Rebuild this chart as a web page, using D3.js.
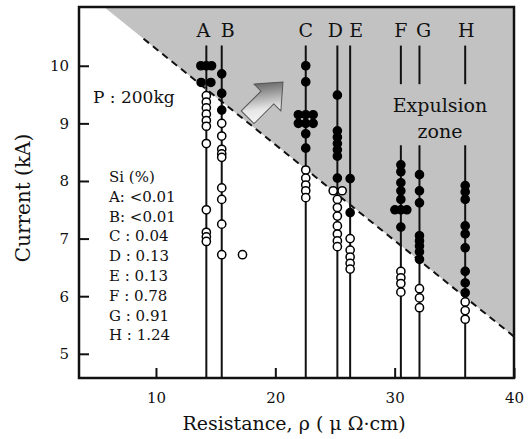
<!DOCTYPE html>
<html>
<head>
<meta charset="utf-8">
<script src="https://cdn.jsdelivr.net/npm/d3@7"></script>
<style>
  body { margin: 0; background: #fff; }
  svg { display: block; }
  text { font-family: "DejaVu Serif", "Liberation Serif", serif; fill: #111; }
</style>
</head>
<body>
<div id="chart"></div>
<script>
// steel grades and their line position (resistance, uOhm.cm)
const grades = ["A", "B", "C", "D", "E", "F", "G", "H"];
const gradeRho = [14.22, 15.51, 22.55, 25.2, 26.27, 30.52, 32.08, 35.91];
const siContent = ["<0.01", "<0.01", " : 0.04", " : 0.13", " : 0.13", " : 0.78", " : 0.91", " : 1.24"];

// welds with expulsion (filled) : [resistance, current kA]
const expulsionPts = [
  [13.76, 10.0], [14.22, 10.0], [14.66, 10.0], [13.78, 9.71], [14.6, 9.71],
  [15.51, 9.86], [15.51, 9.52], [15.51, 9.23],
  [22.55, 10.0], [22.55, 9.72],
  [21.93, 9.15], [22.55, 9.15], [23.17, 9.15], [21.93, 9.0], [22.55, 9.0], [23.17, 9.0],
  [22.55, 8.82], [22.55, 8.57],
  [25.2, 9.49], [25.2, 8.87], [25.2, 8.76], [25.2, 8.65], [25.2, 8.54], [25.2, 8.43], [25.2, 8.05],
  [26.27, 8.04], [26.27, 7.45],
  [30.52, 8.28], [30.52, 8.16], [30.52, 7.97], [30.52, 7.83], [30.52, 7.68],
  [30.02, 7.5], [30.52, 7.5], [31.02, 7.5], [30.52, 7.2],
  [32.08, 8.11], [32.08, 7.83], [32.08, 7.62], [32.08, 7.05], [32.08, 6.96],
  [32.08, 6.87], [32.08, 6.77], [32.08, 6.64],
  [35.91, 7.92], [35.91, 7.81], [35.91, 7.68], [35.91, 7.22], [35.91, 7.08],
  [35.91, 6.84], [35.91, 6.43], [35.91, 6.23], [35.91, 6.06]
];

// welds without expulsion (open)
const soundPts = [
  [14.22, 9.48], [14.22, 9.37], [14.22, 9.27], [14.22, 9.16], [14.22, 9.05], [14.22, 8.95],
  [14.22, 8.65], [14.22, 7.5], [14.22, 7.11], [14.22, 7.03], [14.22, 6.95],
  [15.51, 9.0], [15.51, 8.78], [15.51, 8.55], [15.51, 8.47], [15.51, 8.41],
  [15.51, 7.88], [15.51, 7.68], [15.51, 7.25], [15.51, 6.72], [17.25, 6.72],
  [22.55, 8.19], [22.55, 8.05], [22.55, 7.93], [22.55, 7.83], [22.55, 7.71],
  [24.85, 7.83], [25.6, 7.83], [25.2, 7.68], [25.2, 7.54], [25.2, 7.39],
  [25.2, 7.22], [25.2, 7.08], [25.2, 6.96], [25.2, 6.86],
  [26.27, 7.0], [26.27, 6.8], [26.27, 6.68], [26.27, 6.57], [26.27, 6.47],
  [30.52, 6.43], [30.52, 6.32], [30.52, 6.22], [30.52, 6.07],
  [32.08, 6.13], [32.08, 5.97], [32.08, 5.8],
  [35.91, 5.9], [35.91, 5.75], [35.91, 5.6]
];

// expulsion boundary line
const boundary = [[5.65, 11.02], [40, 5.3]];
const dashStart = 8.96;

const xTicks = [10, 20, 30, 40];
const yTicks = [5, 6, 7, 8, 9, 10];

const width = 528, height = 439;
const margin = {top: 7, right: 14, bottom: 61, left: 79};

const x = d3.scaleLinear().domain([3.55, 40]).range([margin.left, width - margin.right]);
const y = d3.scaleLinear().domain([4.58, 11.02]).range([height - margin.bottom, margin.top]);

const svg = d3.select("#chart").append("svg")
  .attr("width", width)
  .attr("height", height);

const defs = svg.append("defs");
defs.append("clipPath").attr("id", "plot")
  .append("rect")
  .attr("x", margin.left).attr("y", margin.top)
  .attr("width", width - margin.left - margin.right)
  .attr("height", height - margin.top - margin.bottom);

const grad = defs.append("linearGradient").attr("id", "arrowGrad")
  .attr("x1", "0%").attr("y1", "100%").attr("x2", "100%").attr("y2", "0%");
grad.append("stop").attr("offset", "0%").attr("stop-color", "#ffffff");
grad.append("stop").attr("offset", "35%").attr("stop-color", "#e6e6e6");
grad.append("stop").attr("offset", "100%").attr("stop-color", "#2a2a2a");

const plot = svg.append("g").attr("clip-path", "url(#plot)");

// grey expulsion zone (above the boundary)
function lineY(r) {
  var a = boundary[0], b = boundary[1];
  return a[1] + (b[1] - a[1]) * (r - a[0]) / (b[0] - a[0]);
}
const zone = [
  [boundary[0][0], y.domain()[1]],
  [40, y.domain()[1]],
  [40, boundary[1][1]],
  boundary[0]
];
plot.append("path")
  .attr("d", d3.line().x(d => x(d[0])).y(d => y(d[1]))(zone) + "Z")
  .attr("fill", "#c2c2c2");

plot.append("line")
  .attr("x1", x(dashStart)).attr("y1", y(lineY(dashStart)))
  .attr("x2", x(40)).attr("y2", y(lineY(40)))
  .attr("stroke", "#111")
  .attr("stroke-width", 2)
  .attr("stroke-dasharray", "7,5");

// vertical lines per grade, F G H are broken for the "Expulsion zone" label
const lineTop = 10.35, gapTop = 9.68, gapBottom = 8.62;
const split = [false, false, false, false, false, true, true, true];
grades.forEach(function(g, i) {
  var segs = split[i]
    ? [[lineTop, gapTop], [gapBottom, y.domain()[0]]]
    : [[lineTop, y.domain()[0]]];
  segs.forEach(function(s) {
    plot.append("line")
      .attr("x1", x(gradeRho[i])).attr("x2", x(gradeRho[i]))
      .attr("y1", y(s[0])).attr("y2", y(s[1]))
      .attr("stroke", "#111")
      .attr("stroke-width", 2);
  });
});

// arrow pointing into the expulsion zone
const arrowAt = [19.1, 9.4];
svg.append("path")
  .attr("transform", `translate(${x(arrowAt[0])},${y(arrowAt[1])}) rotate(-45)`)
  .attr("d", "M-24,-9 L4,-9 L4,-19 L26,0 L4,19 L4,9 L-24,9 Z")
  .attr("fill", "url(#arrowGrad)")
  .attr("stroke", "#555")
  .attr("stroke-width", 1);

// points
const r = 4.1;
plot.selectAll("circle.exp")
  .data(expulsionPts)
  .join("circle")
  .attr("class", "exp")
  .attr("cx", d => x(d[0])).attr("cy", d => y(d[1]))
  .attr("r", r)
  .attr("fill", "#000")
  .attr("stroke", "#000")
  .attr("stroke-width", 1.4);

plot.selectAll("circle.sound")
  .data(soundPts)
  .join("circle")
  .attr("class", "sound")
  .attr("cx", d => x(d[0])).attr("cy", d => y(d[1]))
  .attr("r", r)
  .attr("fill", "#fff")
  .attr("stroke", "#000")
  .attr("stroke-width", 1.5);

// grade letters
const labelShift = [-3, 6, 0, -2, 6, 0, 4, 1];
svg.selectAll("text.grade")
  .data(grades)
  .join("text")
  .attr("class", "grade")
  .attr("x", (d, i) => x(gradeRho[i]) + labelShift[i])
  .attr("y", 37)
  .attr("text-anchor", "middle")
  .style("font-size", "19px")
  .text(d => d);

svg.append("text")
  .attr("x", 93).attr("y", 103)
  .style("font-size", "17px")
  .text("P : 200kg");

svg.append("text")
  .attr("x", 440).attr("y", 112)
  .attr("text-anchor", "middle")
  .style("font-size", "19px")
  .text("Expulsion");
svg.append("text")
  .attr("x", 440).attr("y", 138)
  .attr("text-anchor", "middle")
  .style("font-size", "19px")
  .text("zone");

// Si content legend
const legend = svg.append("g").attr("transform", "translate(109,182)")
  .style("font-size", "15px");
legend.append("text").attr("x", 0).attr("y", 0).text("Si (%)");
grades.forEach(function(g, i) {
  legend.append("text")
    .attr("x", 0)
    .attr("y", (i + 1) * 19.8)
    .text(g + (i < 2 ? ": " : "") + siContent[i]);
});

// axes, ticks point inward
const xAxis = svg.append("g")
  .attr("transform", `translate(0,${height - margin.bottom})`)
  .call(d3.axisBottom(x).tickValues(xTicks).tickFormat(d3.format("d"))
    .tickSizeInner(-10).tickSizeOuter(0).tickPadding(14));
const yAxis = svg.append("g")
  .attr("transform", `translate(${margin.left},0)`)
  .call(d3.axisLeft(y).tickValues(yTicks).tickFormat(d3.format("d"))
    .tickSizeInner(-10).tickSizeOuter(0).tickPadding(10));

[xAxis, yAxis].forEach(function(a) {
  a.select(".domain").remove();
  a.selectAll(".tick line").attr("stroke", "#111").attr("stroke-width", 2);
  a.selectAll(".tick text")
    .style("font-family", "DejaVu Serif, serif")
    .style("font-size", "15px")
    .attr("fill", "#111");
});

svg.append("rect")
  .attr("x", margin.left).attr("y", margin.top)
  .attr("width", width - margin.left - margin.right)
  .attr("height", height - margin.top - margin.bottom)
  .attr("fill", "none")
  .attr("stroke", "#111")
  .attr("stroke-width", 2.5);

svg.append("text")
  .attr("x", 294).attr("y", 430)
  .attr("text-anchor", "middle")
  .style("font-size", "19px")
  .text("Resistance,  \u03C1 ( \u03BC \u03A9\u00B7cm)");

svg.append("text")
  .attr("transform", "translate(30,198) rotate(-90)")
  .attr("text-anchor", "middle")
  .style("font-size", "20px")
  .text("Current (kA)");
</script>
</body>
</html>
